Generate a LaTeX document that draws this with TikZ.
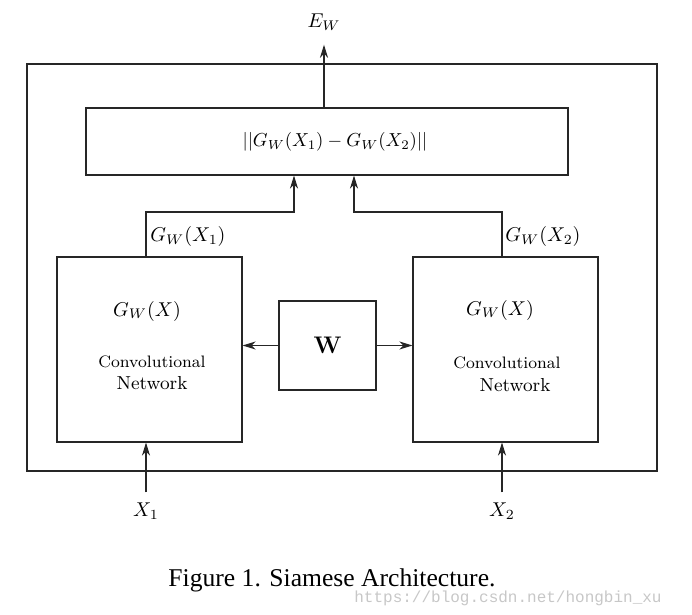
\documentclass[tikz,border=0pt]{standalone}
\usepackage{fontspec}
\usetikzlibrary{arrows.meta}
\newfontfamily\capfont{Liberation Serif}
\newfontfamily\wmfont{Liberation Mono}
\begin{document}
\begin{tikzpicture}[x=0.5pt,y=-0.5pt,
  blk/.style={draw=black!85, line width=0.55pt, fill=none, inner sep=0pt},
  arr/.style={draw=black!85, line width=0.55pt, -{Stealth[length=6.5pt,width=4pt,inset=2pt]}},
  lbl/.style={inner sep=0pt}]
\useasboundingbox (0,0) rectangle (692,615);
\node [blk, minimum width=315pt, minimum height=203.5pt] (frame) at (342,267.5) {};
\node [blk, minimum width=241pt, minimum height=33.5pt] (dist) at (327,141.5) {};
\node [blk, minimum width=92.5pt, minimum height=92.5pt] (netA) at (149.5,349.5) {};
\node [blk, minimum width=92.5pt, minimum height=92.5pt] (netB) at (505.5,349.5) {};
\node [blk, minimum width=48.5pt, minimum height=44.5pt] (W) at (327.5,345.5) {\textbf{\large W}};
\node [lbl, scale=0.94] (distText) at (335,141.5) {$||G_W(X_1) - G_W(X_2)||$};
\node [lbl] (ew) at (324,22) {$E_W$};
\node [lbl] (gA) at (188,237) {$G_W(X_1)$};
\node [lbl] (gB) at (543,237) {$G_W(X_2)$};
\node [lbl] (fA) at (147,311) {$G_W(X)$};
\node [lbl] (fB) at (500,310) {$G_W(X)$};
\node [lbl] (convA) at (152,362) {\fontsize{8.3}{10}\selectfont Convolutional};
\node [lbl] (convB) at (507,363) {\fontsize{8.3}{10}\selectfont Convolutional};
\node [lbl] (netwA) at (152,383) {\fontsize{9.4}{11}\selectfont Network};
\node [lbl] (netwB) at (515,385) {\fontsize{9.4}{11}\selectfont Network};
\node [lbl] (x1) at (146,511) {$X_1$};
\node [lbl] (x2) at (502,511) {$X_2$};
\node [lbl] (caption) at (332,580) {\capfont\fontsize{12.8}{15}\selectfont Figure 1. Siamese Architecture.};
\node [lbl, text=black!22] (mark) at (508,598) {\wmfont\fontsize{8}{10}\selectfont https://blog.csdn.net/hongbin\_xu};
% joints of the two feature lines
\coordinate (jA) at (146,212);
\coordinate (jB) at (502,212);
\coordinate (tA) at (294,175);
\coordinate (tB) at (354,175);
\draw [arr] (dist.north -| ew) -- ([yshift=-7pt]ew.south);
\draw [arr] (W.west) -- (netA.east |- W.west);
\draw [arr] (W.east) -- (netB.west |- W.east);
\draw [arr] (jA |- netA.north) -- (jA) -| (tA |- dist.south);
\draw [arr] (jB |- netB.north) -- (jB) -| (tB |- dist.south);
\draw [arr] ([yshift=5pt]x1.north) -- (x1 |- netA.south);
\draw [arr] ([yshift=5pt]x2.north) -- (x2 |- netB.south);
\end{tikzpicture}
\end{document}
